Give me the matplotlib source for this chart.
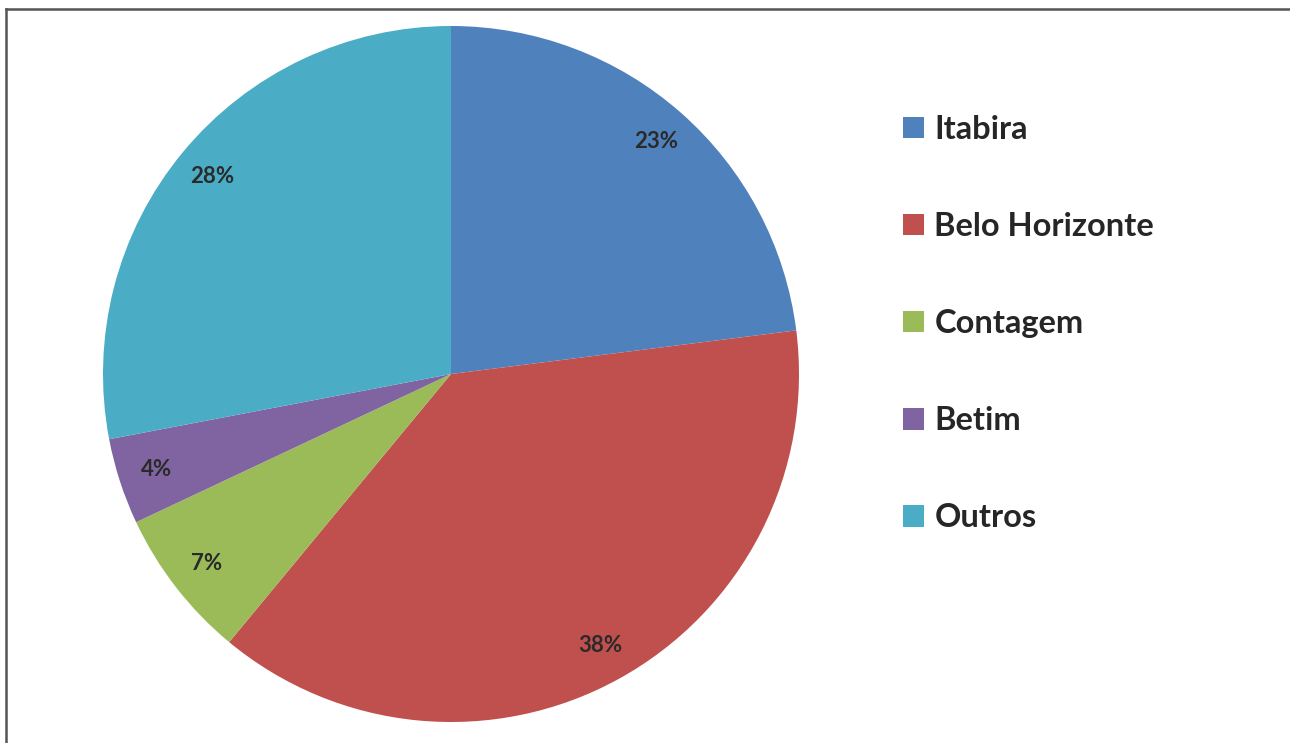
import matplotlib
matplotlib.use('Agg')
import matplotlib.pyplot as plt
from matplotlib.lines import Line2D

# data
cities = ['Itabira', 'Belo Horizonte', 'Contagem', 'Betim', 'Outros']
shares = [23, 38, 7, 4, 28]
colors = ['#4F81BD', '#C0504D', '#9BBB59', '#8064A2', '#4BACC6']

plt.rcParams['font.family'] = ['Lato', 'DejaVu Sans']

W, H = 1290, 743
fig = plt.figure(figsize=(W / 100, H / 100), dpi=100)
fig.patch.set_facecolor('white')

# pie centre (451, 374) px, radius 348 px
cx, cy, r = 451, 374, 348
ax = fig.add_axes([(cx - r) / W, (H - cy - r) / H, 2 * r / W, 2 * r / H])
wedges, texts, autotexts = ax.pie(
    shares, colors=colors, startangle=90, counterclock=False,
    autopct='%1.0f%%', pctdistance=0.89, radius=1.0,
    wedgeprops=dict(linewidth=0),
    textprops=dict(fontsize=16, color='#2a2a2a', fontweight='bold'))
ax.set_xlim(-1, 1)
ax.set_ylim(-1, 1)
ax.set_aspect('equal')
ax.axis('off')

leg = fig.legend(wedges, cities, loc='upper left',
                 bbox_to_anchor=(890 / W, 1 - 102 / H),
                 frameon=False, prop=dict(size=23.5, weight='bold'),
                 handlelength=0.64, handleheight=0.64, handletextpad=0.32,
                 labelspacing=2.085, borderaxespad=0)
for t in leg.get_texts():
    t.set_color('#262626')

# thin frame on the top and left edge
fig.add_artist(Line2D([6 / W, 1], [1 - 8.5 / H, 1 - 8.5 / H],
                      color='#555555', linewidth=1.8, transform=fig.transFigure))
fig.add_artist(Line2D([6 / W, 6 / W], [0, 1 - 8.5 / H],
                      color='#555555', linewidth=1.8, transform=fig.transFigure))

fig.savefig('out.png', dpi=100, facecolor='white')
